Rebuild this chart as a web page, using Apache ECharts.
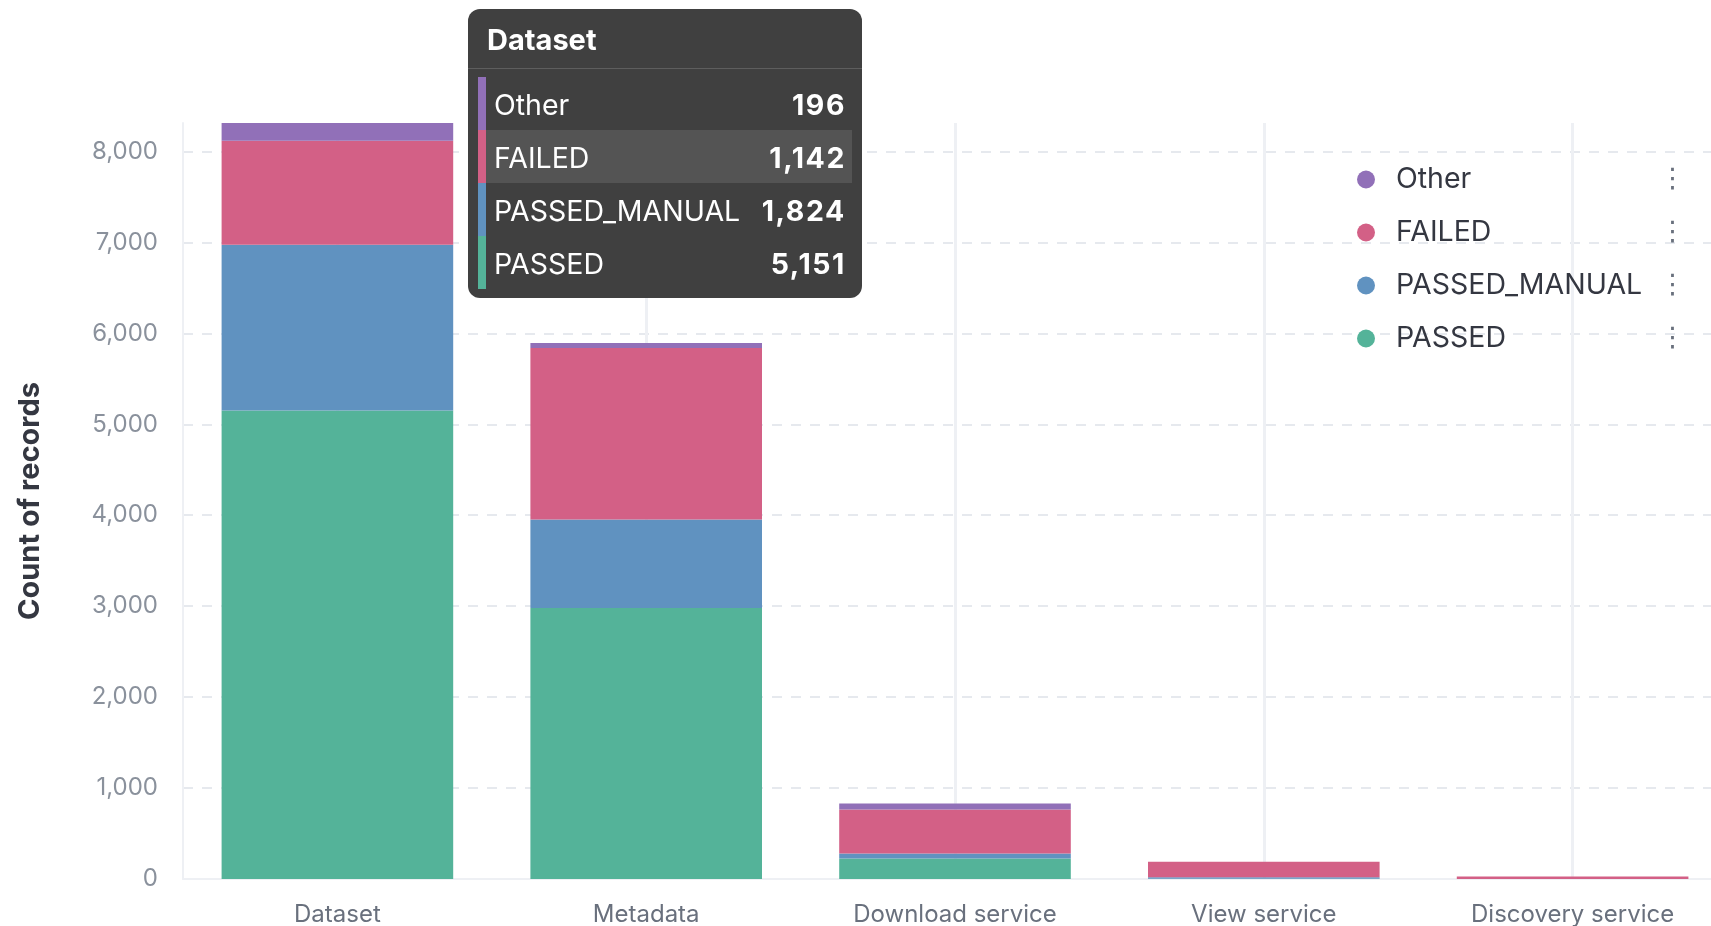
<!DOCTYPE html>
<html>
<head>
<meta charset="utf-8">
<title>Count of records</title>
<script src="https://cdn.jsdelivr.net/npm/echarts@6/dist/echarts.min.js"></script>
<style>
  html, body { margin: 0; padding: 0; background: #fff; }
  .tt-title { font: 700 29px Inter, sans-serif; color: #fff; height: 59px; line-height: 62px; padding-left: 19px; border-bottom: 1px solid #5e5e5e; }
  .tt-list { padding: 8px 10px 9px 10px; }
  .tt-row { display: flex; height: 53px; align-items: stretch; }
  .tt-bar { width: 8px; }
  .tt-body { flex: 1; display: flex; justify-content: space-between; align-items: center; padding: 2px 6px 0 8px; font: 400 28.5px Inter, sans-serif; color: #fff; }
  .tt-body b { font-weight: 700; letter-spacing: 1.6px; }
  .tt-hl { background: #545454; }
</style>
</head>
<body>
<div id="main" style="width:1711px;height:926px;"></div>
<script>
// categories and stacked values
var categories = ['Dataset', 'Metadata', 'Download service', 'View service', 'Discovery service'];
var passed       = [5151, 2981, 225, 2, 0];
var passedManual = [1824, 972, 55, 16, 0];
var failed       = [1142, 1886, 484, 172, 28];
var other        = [196, 55, 66, 0, 0];

var seriesNames  = ['PASSED', 'PASSED_MANUAL', 'FAILED', 'Other'];
var seriesColors = ['#54b399', '#6092c0', '#d36086', '#9170b8'];
var legendOrder  = ['Other', 'FAILED', 'PASSED_MANUAL', 'PASSED'];
var yTickStep = 1000;

var chart = echarts.init(document.getElementById('main'));
var values = [passed, passedManual, failed, other];

function fmt(v) { return v.toLocaleString('en-US'); }

var series = seriesNames.map(function (name, i) {
  var s = {
    name: name,
    type: 'bar',
    stack: 'total',
    barCategoryGap: '25%',
    data: values[i],
    itemStyle: { color: seriesColors[i] },
    emphasis: { disabled: true }
  };
  if (i === 0) {
    // vertical guide lines at each category
    s.markLine = {
      silent: true,
      z: 1,
      symbol: 'none',
      label: { show: false },
      lineStyle: { color: '#eef0f4', width: 3, type: 'solid' },
      data: categories.map(function (c) { return { xAxis: c }; })
    };
  }
  return s;
});

var option = {
  animation: false,
  textStyle: { fontFamily: 'Inter, sans-serif' },
  grid: { left: 183, top: 123, width: 1544, bottom: 47, containLabel: false, outerBoundsMode: 'none' },
  tooltip: {
    trigger: 'axis',
    triggerOn: 'none',
    alwaysShowContent: true,
    axisPointer: { type: 'none' },
    position: [468, 9],
    padding: 0,
    borderWidth: 0,
    borderRadius: 12,
    backgroundColor: '#404040',
    transitionDuration: 0,
    extraCssText: 'box-shadow:none;width:394px;height:289px;overflow:hidden;',
    formatter: function (params) {
      var idx = params[0].dataIndex;
      var html = '<div class="tt-title">' + categories[idx] + '</div><div class="tt-list">';
      legendOrder.forEach(function (name) {
        var k = seriesNames.indexOf(name);
        html += '<div class="tt-row"><div class="tt-bar" style="background:' + seriesColors[k] + '"></div>' +
          '<div class="tt-body' + (name === 'FAILED' ? ' tt-hl' : '') + '"><span>' + name + '</span><b>' +
          fmt(values[k][idx]) + '</b></div></div>';
      });
      return html + '</div>';
    }
  },
  legend: {
    data: legendOrder,
    orient: 'vertical',
    left: 1352,
    top: 160,
    icon: 'circle',
    itemWidth: 18,
    itemHeight: 18,
    itemGap: 24,
    formatter: function (name) { return '{n|' + name + '}{d|⋮}'; },
    textStyle: {
      rich: {
        n: { fontFamily: 'Inter', fontSize: 28.5, color: '#343741', lineHeight: 33, width: 263, padding: [0, 0, 0, 16] },
        d: { fontFamily: 'DejaVu Sans', fontSize: 27, color: '#69707d', lineHeight: 33 }
      }
    }
  },
  xAxis: {
    type: 'category',
    data: categories,
    axisLine: { lineStyle: { color: '#eef0f4', width: 2 } },
    axisTick: { show: false },
    axisLabel: { color: '#69707d', fontSize: 24, margin: 24, fontFamily: 'Inter' },
    splitLine: { show: false }
  },
  yAxis: {
    type: 'value',
    min: 0,
    max: function (v) { return v.max; },
    interval: yTickStep,
    name: 'Count of records',
    nameLocation: 'middle',
    nameGap: 138,
    nameTextStyle: { color: '#343741', fontSize: 29, fontWeight: 'bold', fontFamily: 'Inter' },
    axisLine: { show: true, lineStyle: { color: '#eef0f4', width: 2 } },
    axisTick: { show: false },
    axisLabel: { color: '#8a919c', fontSize: 24, margin: 25, showMaxLabel: false, fontFamily: 'Inter', formatter: fmt, padding: [7, 0, 0, 0] },
    splitLine: { show: true, showMinLine: false, showMaxLine: false, lineStyle: { color: '#e6e9ee', width: 2, type: [10, 9] } }
  },
  series: series
};

chart.setOption(option);
chart.dispatchAction({ type: 'showTip', seriesIndex: 0, dataIndex: 0 });
</script>
</body>
</html>
